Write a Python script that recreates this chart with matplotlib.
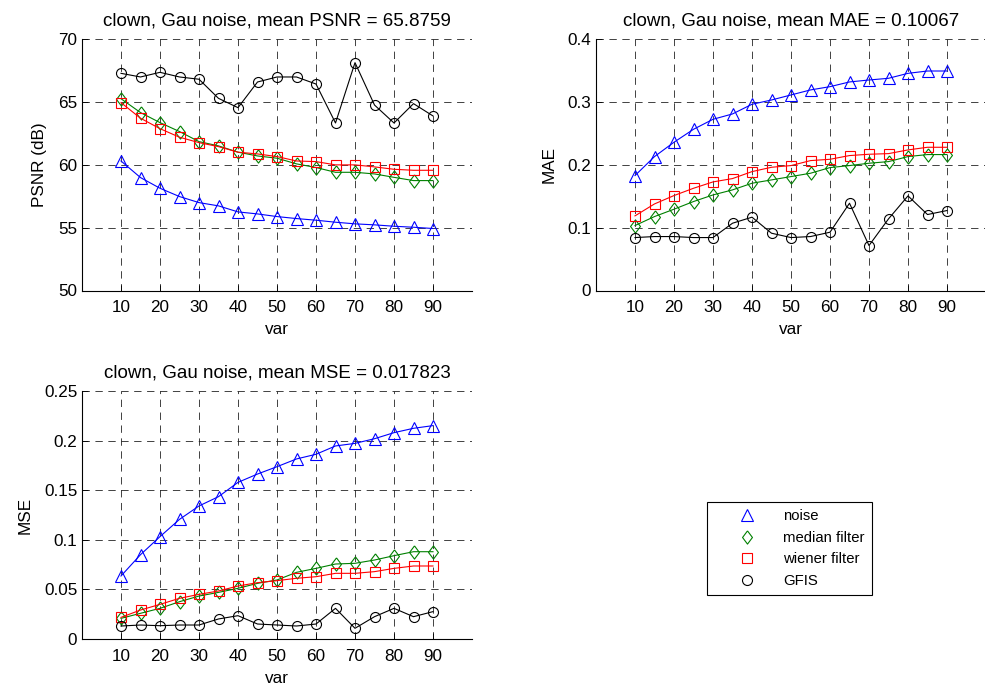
import matplotlib
matplotlib.use("Agg")
import matplotlib.pyplot as plt

plt.rcParams['font.family'] = ['Liberation Sans', 'DejaVu Sans']
plt.rcParams['lines.scale_dashes'] = False

x = [10, 15, 20, 25, 30, 35, 40, 45, 50, 55, 60, 65, 70, 75, 80, 85, 90]
xticks = [10, 20, 30, 40, 50, 60, 70, 80, 90]
series_names = ['noise', 'median filter', 'wiener filter', 'GFIS']

psnr_noise = [60.3, 58.98, 58.13, 57.47, 56.99, 56.73, 56.25, 56.09, 55.88, 55.72, 55.59, 55.43, 55.3, 55.22, 55.11, 55.03, 54.93]
psnr_median = [65.25, 64.15, 63.35, 62.64, 61.84, 61.5, 61.0, 60.7, 60.52, 60.07, 59.78, 59.4, 59.4, 59.27, 59.0, 58.74, 58.74]
psnr_wiener = [64.94, 63.7, 62.87, 62.19, 61.76, 61.44, 61.0, 60.86, 60.65, 60.3, 60.25, 59.99, 59.99, 59.83, 59.64, 59.56, 59.56]
psnr_gfis = [67.27, 66.98, 67.35, 66.98, 66.8, 65.28, 64.54, 66.58, 66.98, 66.98, 66.42, 63.32, 68.12, 64.75, 63.32, 64.86, 63.88]

mae_noise = [0.1828, 0.213, 0.2358, 0.2564, 0.2723, 0.2808, 0.2962, 0.303, 0.311, 0.319, 0.3242, 0.3317, 0.3348, 0.3375, 0.3454, 0.3491, 0.3491]
mae_median = [0.1033, 0.1176, 0.1293, 0.1415, 0.152, 0.16, 0.1706, 0.1759, 0.1812, 0.1865, 0.1955, 0.1987, 0.2024, 0.205, 0.213, 0.2162, 0.2162]
mae_wiener = [0.1187, 0.1377, 0.151, 0.1626, 0.1727, 0.178, 0.1891, 0.196, 0.1987, 0.2066, 0.2087, 0.2146, 0.2167, 0.2177, 0.2236, 0.2278, 0.2278]
mae_gfis = [0.0842, 0.0858, 0.0858, 0.0842, 0.0842, 0.107, 0.1166, 0.0911, 0.0842, 0.0858, 0.0927, 0.1388, 0.0715, 0.1139, 0.1505, 0.1208, 0.1272]

mse_noise = [0.0635, 0.085, 0.1032, 0.1206, 0.1341, 0.1435, 0.1579, 0.1663, 0.1737, 0.1815, 0.1862, 0.1946, 0.1972, 0.2019, 0.208, 0.2124, 0.2151]
mse_median = [0.0208, 0.0259, 0.0309, 0.0376, 0.0433, 0.047, 0.0511, 0.0561, 0.0595, 0.0672, 0.0712, 0.0756, 0.0763, 0.0796, 0.084, 0.088, 0.088]
mse_wiener = [0.0218, 0.0292, 0.0349, 0.041, 0.045, 0.0484, 0.0534, 0.0568, 0.0588, 0.0612, 0.0628, 0.0662, 0.0662, 0.0679, 0.0712, 0.0736, 0.0736]
mse_gfis = [0.0131, 0.0141, 0.0134, 0.0141, 0.0141, 0.0202, 0.0235, 0.0151, 0.0141, 0.0131, 0.0151, 0.0309, 0.0108, 0.0225, 0.0309, 0.0225, 0.0276]

titles = ['clown, Gau noise, mean PSNR = 65.8759',
          'clown, Gau noise, mean MAE = 0.10067',
          'clown, Gau noise, mean MSE = 0.017823']
ylabels = ['PSNR (dB)', 'MAE', 'MSE']
yticks_list = [[50, 55, 60, 65, 70],
               [0, 0.1, 0.2, 0.3, 0.4],
               [0, 0.05, 0.1, 0.15, 0.2, 0.25]]
ytick_labels = [['50', '55', '60', '65', '70'],
                ['0', '0.1', '0.2', '0.3', '0.4'],
                ['0', '0.05', '0.1', '0.15', '0.2', '0.25']]

colors = ['#0000ff', '#008000', '#ff0000', '#000000']
diamond = [(0, 1), (0.75, 0), (0, -1), (-0.75, 0), (0, 1)]
markers = ['^', diamond, 's', 'o']
msizes = [8.5, 9.5, 7, 7.2]

W, H = 985, 698
fig = plt.figure(figsize=(W / 100, H / 100), dpi=100)

def rect(l, t, r, b):
    return [l / W, 1 - b / H, (r - l) / W, (b - t) / H]

axes_rects = [rect(82, 39, 472, 290.5), rect(596, 39, 986, 290.5), rect(82, 391, 472, 639)]
data = [
    [psnr_noise, psnr_median, psnr_wiener, psnr_gfis],
    [mae_noise, mae_median, mae_wiener, mae_gfis],
    [mse_noise, mse_median, mse_wiener, mse_gfis],
]

FS = 12.3
for i in range(3):
    ax = fig.add_axes(axes_rects[i])
    for s in range(4):
        ax.plot(x, data[i][s], color=colors[s], marker=markers[s], markersize=msizes[s],
                markerfacecolor='none', markeredgewidth=0.8, linewidth=0.8, label=series_names[s])
    ax.set_xlim(0, 100)
    ax.set_ylim(yticks_list[i][0], yticks_list[i][-1])
    ax.set_xticks(xticks)
    ax.set_xticklabels([str(v) for v in xticks])
    ax.set_yticks(yticks_list[i])
    ax.set_yticklabels(ytick_labels[i])
    ax.spines['top'].set_visible(False)
    ax.spines['right'].set_visible(False)
    ax.grid(True, color='#222222', linestyle=(0, (5.3, 4)), linewidth=0.6)
    ax.tick_params(direction='in', length=4, labelsize=FS, width=0.6)
    ax.tick_params(axis='x', pad=7)
    ax.tick_params(axis='y', pad=3.5)
    for sp in ['left', 'bottom']:
        ax.spines[sp].set_linewidth(0.8)
    ax.set_title(titles[i], fontsize=13.5, pad=9.5)
    ax.set_xlabel('var', fontsize=FS, labelpad=5)
    ax.set_ylabel(ylabels[i], fontsize=FS, labelpad=8)

leg_handles = []
for s in range(4):
    h, = plt.plot([], [], color=colors[s], marker=markers[s], markersize=msizes[s],
                  markerfacecolor='none', markeredgewidth=0.8, linestyle='none')
    leg_handles.append(h)
leg = fig.legend(leg_handles, series_names, loc='upper left',
                 bbox_to_anchor=(707 / W, 1 - 502 / H), fontsize=10.7,
                 frameon=True, fancybox=False, edgecolor='black', framealpha=1,
                 handlelength=4.4, handletextpad=0.2, borderpad=0.5, labelspacing=0.5,
                 borderaxespad=0)
leg.get_frame().set_linewidth(0.8)

fig.savefig('out.png', dpi=100)
